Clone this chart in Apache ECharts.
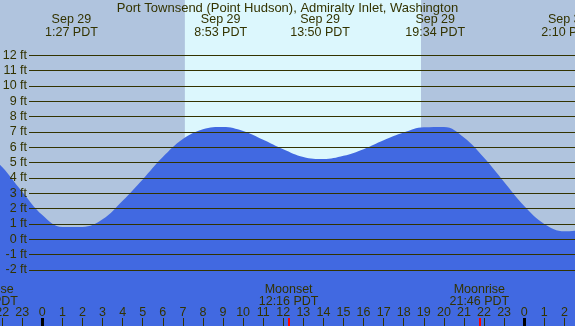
<!DOCTYPE html>
<html style="height: 100%">
<head>
    <meta charset="utf-8">
    <script src="https://cdn.jsdelivr.net/npm/echarts@6/dist/echarts.min.js"></script>
</head>
<body style="height: 100%; margin: 0">
<div id="container" style="width: 575px; height: 326px"></div>
<script type="text/javascript">
// tide curve, hours from midnight Sep 29 (PDT) and feet
var tideHours = [-3, -2, -1, 0, 1, 2, 3, 4, 5, 6, 7, 8, 9, 10, 11, 12, 13, 14, 15, 16, 17, 18, 19, 20, 21, 22, 23, 24, 25, 26, 27];
var tideFeet = [5.95, 4.72, 3.1, 1.58, 0.8, 0.8, 1.3, 2.51, 3.9, 5.36, 6.54, 7.18, 7.33, 7.07, 6.5, 5.88, 5.37, 5.23, 5.44, 5.88, 6.46, 6.96, 7.3, 7.32, 6.64, 5.31, 3.74, 2.17, 1.0, 0.52, 0.62];

// high / low tide labels along the top
var extremeHours = [1.45, 8.883, 13.833, 19.567, 26.167];
var extremeLabels = ['Sep 29\n1:27 PDT', 'Sep 29\n8:53 PDT', 'Sep 29\n13:50 PDT', 'Sep 29\n19:34 PDT', 'Sep 30\n2:10 PDT'];

// moon events
var moonHours = [-2.7, 12.267, 21.767];
var moonLabels = ['Moonrise\n21:18 PDT', 'Moonset\n12:16 PDT', 'Moonrise\n21:46 PDT'];

// daylight
var sunrise = 7.1;
var sunset = 18.86;

var hourTicks = [];
for (var h = -2; h <= 26; h++) hourTicks.push(h);
var midnights = [0, 24];

var X_MIN = -2.107, X_MAX = 26.53;
var Y_MIN = -5.66, Y_MAX = 15.61;

var FONT = 'Liberation Sans, Arial, sans-serif';
var TXT = '#333300';
var FS = 12.5;

var tideData = tideHours.map(function (h, i) { return [h, tideFeet[i]]; });

var dom = document.getElementById('container');
var myChart = echarts.init(dom);

var option = {
    animation: false,
    backgroundColor: '#b0c4de',
    title: {
        text: 'Port Townsend (Point Hudson), Admiralty Inlet, Washington',
        left: 'center',
        top: 0,
        padding: [2, 0, 0, 0],
        textStyle: { fontSize: 13, fontWeight: 'normal', color: TXT, fontFamily: FONT }
    },
    grid: [
        { left: 0, right: 0, top: 0, bottom: 0, outerBoundsMode: 'none' },
        { left: 29, right: 0, top: 55.3, bottom: 56, outerBoundsMode: 'none' }
    ],
    xAxis: [
        {   // hour labels + ticks
            type: 'value', gridIndex: 0, min: X_MIN, max: X_MAX, position: 'bottom',
            axisLine: { show: false, onZero: false }, splitLine: { show: false },
            axisTick: { show: true, inside: true, length: 8, customValues: hourTicks,
                lineStyle: { color: TXT, width: 1 } },
            axisLabel: { show: true, inside: true, margin: 7, customValues: hourTicks,
                color: TXT, fontSize: FS, fontFamily: FONT,
                formatter: function (v) { return String(((v % 24) + 24) % 24); } },
            z: 10
        },
        {   // midnight ticks
            type: 'value', gridIndex: 0, min: X_MIN, max: X_MAX, position: 'bottom',
            axisLine: { show: false, onZero: false }, splitLine: { show: false },
            axisLabel: { show: false },
            axisTick: { show: true, inside: true, length: 8, customValues: midnights,
                lineStyle: { color: '#000000', width: 3 } },
            z: 11
        },
        {   // moon event ticks
            type: 'value', gridIndex: 0, min: X_MIN, max: X_MAX, position: 'bottom',
            axisLine: { show: false, onZero: false }, splitLine: { show: false },
            axisLabel: { show: false },
            axisTick: { show: true, inside: true, length: 8, customValues: moonHours,
                lineStyle: { color: '#ff0000', width: 2 } },
            z: 12
        },
        {   // tide extremes along top
            type: 'value', gridIndex: 0, min: X_MIN, max: X_MAX, position: 'top',
            axisLine: { show: false, onZero: false }, splitLine: { show: false },
            axisTick: { show: false },
            axisLabel: { show: true, inside: true, margin: 13, customValues: extremeHours,
                color: TXT, fontSize: FS, fontFamily: FONT, lineHeight: 13,
                formatter: function (v) {
                    var i = extremeHours.indexOf(v);
                    return i >= 0 ? extremeLabels[i] : '';
                } },
            z: 10
        },
        {
            type: 'value', gridIndex: 1, min: X_MIN, max: X_MAX, show: false
        }
    ],
    yAxis: [
        { type: 'value', gridIndex: 0, min: Y_MIN, max: Y_MAX, show: false },
        {
            type: 'value', gridIndex: 1, min: -2, max: 12, interval: 1,
            axisLine: { show: false }, axisTick: { show: false },
            axisLabel: { margin: 2, color: TXT, fontSize: FS, fontFamily: FONT,
                formatter: '{value} ft' },
            splitLine: { show: true, lineStyle: { color: TXT, width: 1 } },
            z: 10
        }
    ],
    series: [{
        name: 'tide',
        type: 'line',
        xAxisIndex: 0,
        yAxisIndex: 0,
        data: tideData,
        smooth: 0.4,
        symbol: 'none',
        lineStyle: { width: 0, color: '#4169e1' },
        areaStyle: { color: '#4169e1', opacity: 1, origin: 'start' },
        markArea: {
            silent: true,
            itemStyle: { color: '#dcf7fd' },
            data: [[{ xAxis: sunrise }, { xAxis: sunset }]]
        }
    }]
};

myChart.setOption(option, true);

// moon labels placed through the axis scale
var moonText = [];
for (var i = 0; i < moonHours.length; i++) {
    var px = myChart.convertToPixel({ xAxisIndex: 0 }, moonHours[i]);
    moonText.push({
        type: 'text',
        x: px,
        y: 307.5,
        z: 100,
        style: {
            text: moonLabels[i],
            align: 'center',
            verticalAlign: 'bottom',
            fill: TXT,
            font: FS + 'px ' + FONT,
            lineHeight: 12
        }
    });
}
myChart.setOption({ graphic: moonText });
</script>
</body>
</html>
